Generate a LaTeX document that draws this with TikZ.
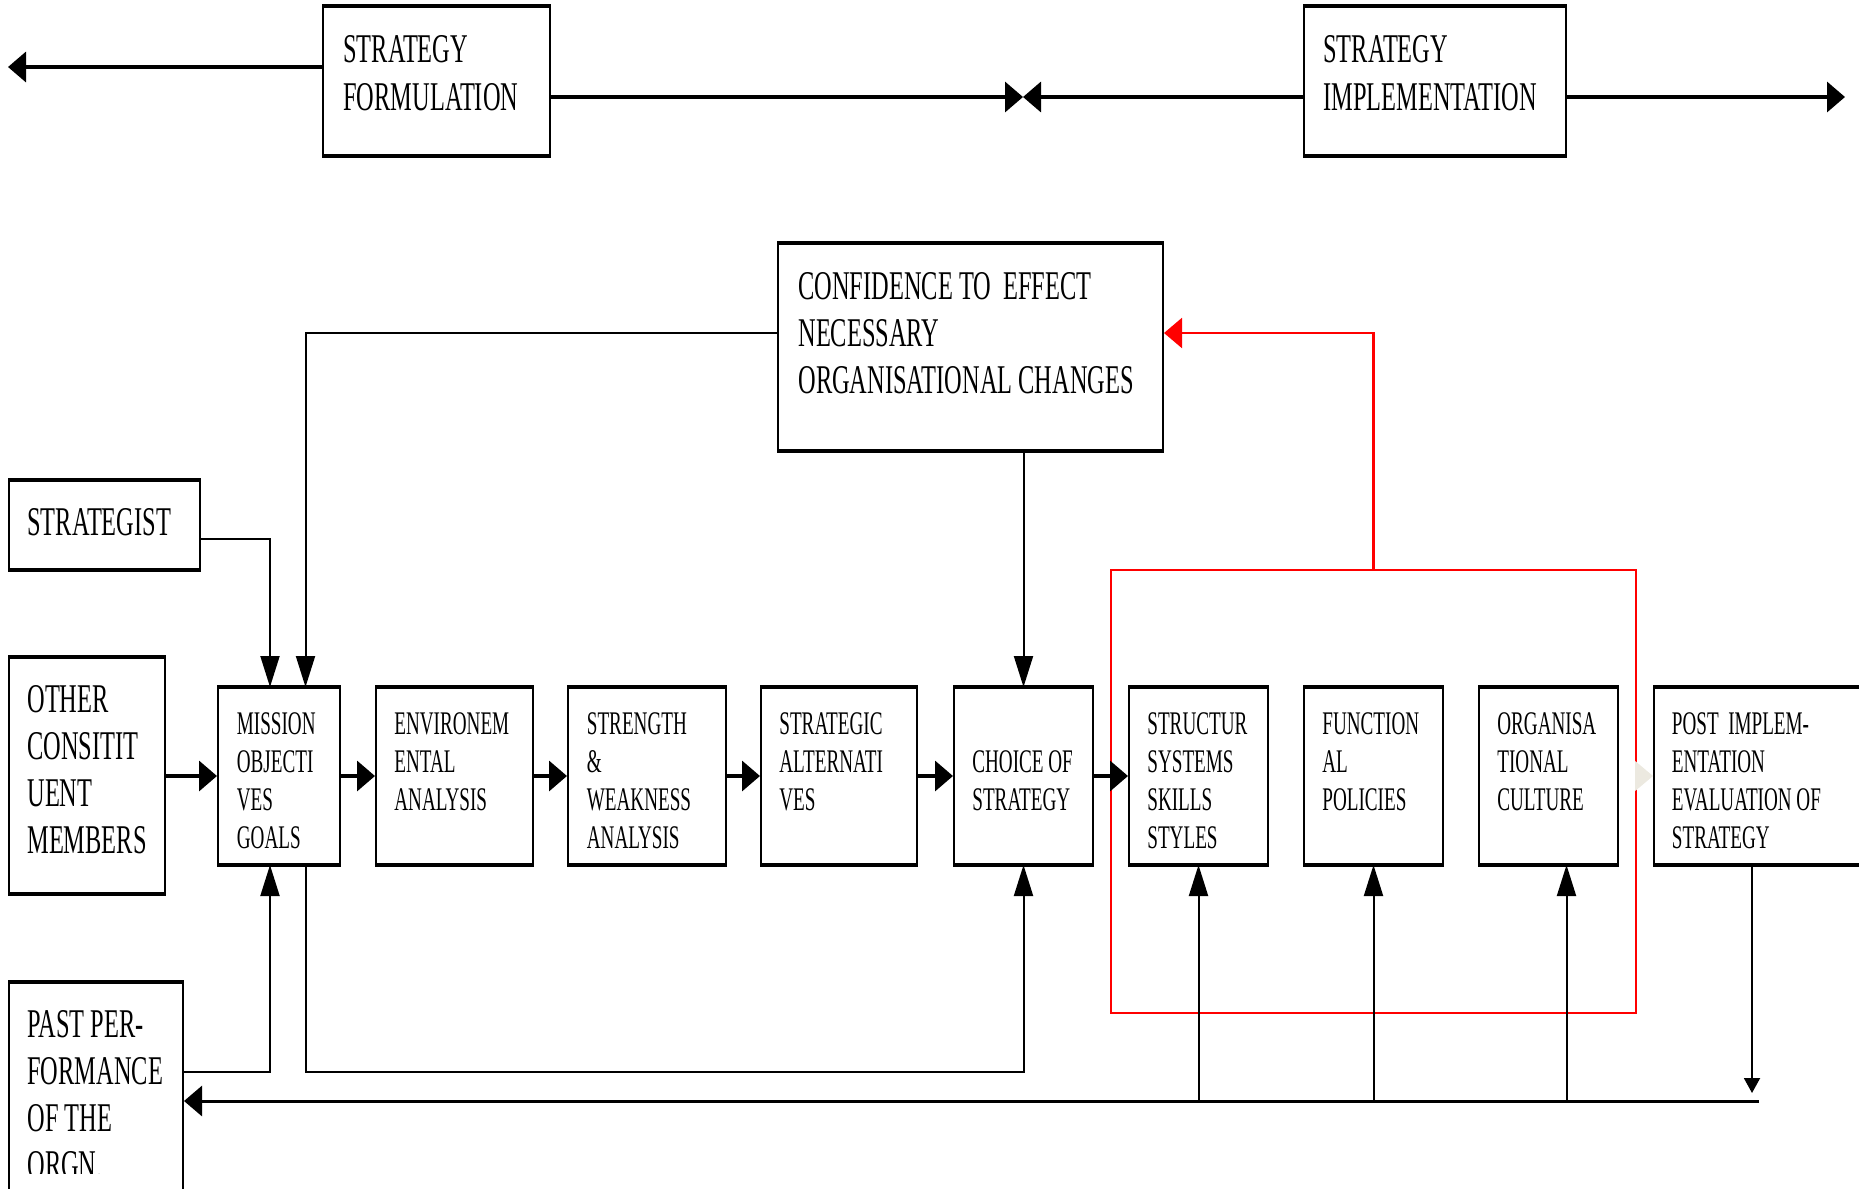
\documentclass[tikz,border=0pt]{standalone}
\usepackage{fontspec}
\setmainfont{Liberation Serif}[FakeStretch=0.58]
\newfontfamily\bigfam{Liberation Serif}[FakeStretch=0.598]
\usetikzlibrary{arrows.meta,fit,calc}
\definecolor{faint}{RGB}{236,233,224}
\begin{document}
\begin{tikzpicture}[x=0.5pt,y=-0.5pt,
  box/.style={draw, line width=1pt, inner sep=0pt, fit={#1}},
  big/.style={anchor=north west, inner sep=0pt, align=left, font=\bigfam\fontsize{20.4}{23.5}\selectfont},
  small/.style={anchor=north west, inner sep=0pt, align=left, font=\fontsize{16.5}{19}\selectfont},
  hh/.style={-{Triangle[length=9pt,width=15pt]}},
  vh/.style={-{Triangle[length=15.5pt,width=9.5pt]}},
  thickline/.style={line width=1.75pt},
  thinline/.style={line width=1pt},
]
\useasboundingbox (0,0) rectangle (1859,1189);

% boxes
\node[box={(323,7) (550,155)}] (sf) {};
\node[box={(1304,7) (1566,155)}] (si) {};
\node[box={(778,244) (1163,450)}] (conf) {};
\node[box={(9,481) (200,569)}] (strat) {};
\node[box={(9,658) (165,893)}] (oth) {};
\node[box={(218,688) (340,864)}] (mis) {};
\node[box={(376,688) (533,864)}] (env) {};
\node[box={(568,688) (726,864)}] (swa) {};
\node[box={(761,688) (917,864)}] (alt) {};
\node[box={(954,688) (1093,864)}] (cho) {};
\node[box={(1129,688) (1268,864)}] (stru) {};
\node[box={(1304,688) (1443,864)}] (fun) {};
\node[box={(1479,688) (1618,864)}] (org) {};
\node[box={(1654,688) (1875,864)}] (post) {};
\node[box={(9,983) (183,1200)}] (past) {};
\node[box={(1111,570) (1636,1013)}, draw=red, line width=1.1pt] (rb) {};

\foreach \n in {sf,si,conf,strat,oth,mis,env,swa,alt,cho,stru,fun,org,post,past}
  \draw[line width=1.7pt] (\n.north west) -- (\n.north east) (\n.south west) -- (\n.south east);

% texts
\node[big] (sft) at (343,35) {STRATEGY\\[0.7pt]FORMULATION};
\node[big] (sit) at (1323,35) {STRATEGY\\[0.7pt]IMPLEMENTATION};
\node[big] (conft) at (798,272) {CONFIDENCE TO\ \ EFFECT\\NECESSARY\\ORGANISATIONAL CHANGES};
\node[big] (stratt) at (27,508) {STRATEGIST};
\node[big] (otht) at (27,685) {OTHER\\CONSITIT\\UENT\\MEMBERS};
\node[small] (mist) at (236.5,712) {MISSION\\OBJECTI\\VES\\GOALS};
\node[small] (envt) at (394,712) {ENVIRONEM\\ENTAL\\ANALYSIS};
\node[small] (swat) at (586.5,712) {STRENGTH\\\&\\WEAKNESS\\ANALYSIS};
\node[small] (altt) at (779,712) {STRATEGIC\\ALTERNATI\\VES};
\node[small] (chot) at (972,750) {CHOICE OF\\STRATEGY};
\node[small] (strut) at (1147,712) {STRUCTUR\\SYSTEMS\\SKILLS\\STYLES};
\node[small] (funt) at (1322,712) {FUNCTION\\AL\\POLICIES};
\node[small] (orgt) at (1497,712) {ORGANISA\\TIONAL\\CULTURE};
\node[small] (postt) at (1671.5,712) {POST\ \ IMPLEM-\\ENTATION\\EVALUATION OF\\STRATEGY};
\begin{scope}
  \clip (0,0) rectangle (1859,1173);
  \node[big] (pastt) at (27,1010) {PAST PER-\\FORMANCE\\OF THE\\ORGN.};
\end{scope}

% top connectors
\coordinate (tl) at (8,67);
\coordinate (tm) at (1023,97);
\coordinate (tr) at (1845,97);
\draw[thickline,hh] (sf.west |- tl) -- (tl);
\draw[thickline,hh] (sf.east |- tm) -- (tm);
\draw[thickline,hh] (si.west |- tm) -- (tm);
\draw[thickline,hh] (si.east |- tm) -- (tr);

% middle connectors
\coordinate (cy) at (305.5,333);
\coordinate (sy) at (270,539);
\draw[thinline,vh] (conf.west |- cy) -| (cy |- mis.north);
\draw[thinline,vh] (strat.east |- sy) -| (sy |- mis.north);
\draw[thinline,vh] (cho.north |- conf.south) -- (cho.north);
\draw[line width=1.1pt,red,hh] (rb.north) |- (conf.east |- cy);

% chain
\draw[thickline,hh] (oth.east |- mis.west) -- (mis.west);
\draw[thickline,hh] (mis.east) -- (env.west);
\draw[thickline,hh] (env.east) -- (swa.west);
\draw[thickline,hh] (swa.east) -- (alt.west);
\draw[thickline,hh] (alt.east) -- (cho.west);
\draw[thickline,hh] (cho.east) -- (stru.west);
\draw[line width=0.5pt,hh,draw=faint,shorten <=8pt] (org.east) -- (post.west);

% bottom connectors
\coordinate (py) at (270,1072);
\coordinate (my) at (305.5,1072);
\coordinate (bl) at (1759,1101);
\coordinate (ox) at (1566.5,1101);
\coordinate (px) at (1752,1093);
\draw[thinline,vh] (past.east |- py) -| (py |- mis.south);
\draw[thinline,vh] (my |- mis.south) |- (cho.south |- my) -- (cho.south);
\draw[line width=1.5pt,hh] (bl) -- (past.east |- bl);
\draw[thinline,vh] (stru.south |- bl) -- (stru.south);
\draw[thinline,vh] (fun.south |- bl) -- (fun.south);
\draw[thinline,vh] (ox) -- (ox |- org.south);
\draw[thinline,-{Triangle[length=7.5pt,width=8pt]}] (px |- post.south) -- (px);
\end{tikzpicture}
\end{document}
